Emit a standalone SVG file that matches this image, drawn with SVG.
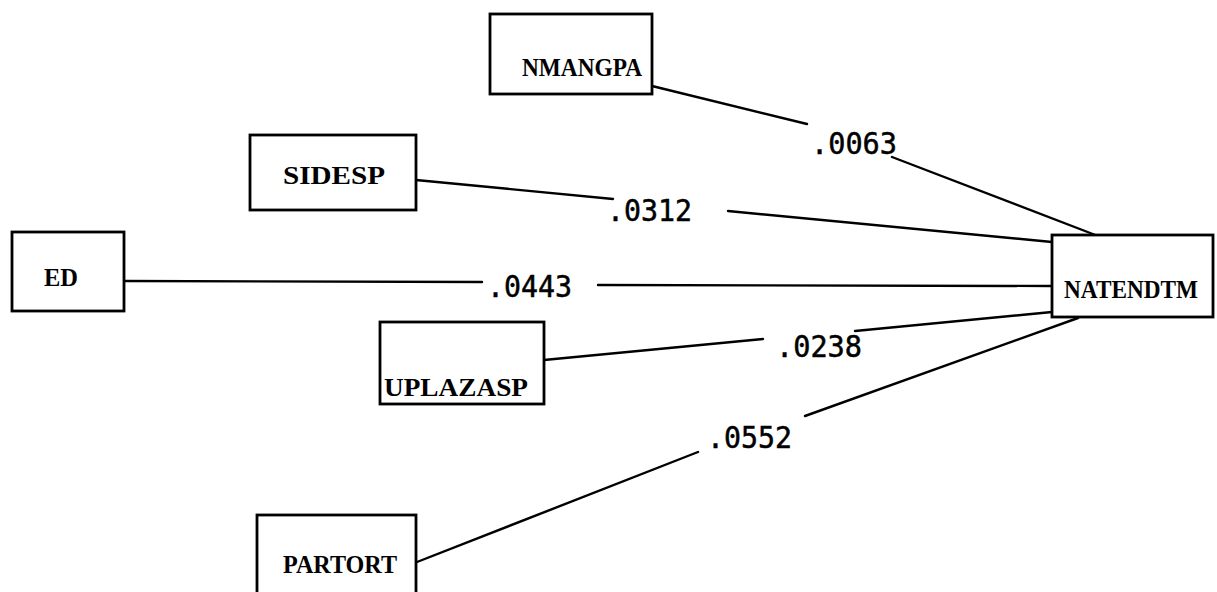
<svg xmlns="http://www.w3.org/2000/svg" width="1217" height="592" viewBox="0 0 1217 592">
<style>
.box{fill:#fff;stroke:#000;stroke-width:2.8}
.lbl{font-family:"Liberation Serif","DejaVu Serif",serif;font-weight:bold;font-size:25px;fill:#000}
.num{font-family:"DejaVu Sans Mono","Liberation Mono",monospace;font-size:30px;fill:#000;stroke:#000;stroke-width:0.5}
.ln{stroke:#000;stroke-width:2.4;fill:none;stroke-linecap:round}
</style>
<rect width="1217" height="592" fill="#fff"/>
<g id="connectors">
<line class="ln" x1="652" y1="86" x2="807" y2="124"/>
<line class="ln" x1="892" y1="157" x2="1098" y2="236"/>
<line class="ln" x1="416" y1="180" x2="613" y2="199"/>
<line class="ln" x1="728" y1="211" x2="1052" y2="242"/>
<line class="ln" x1="124" y1="281" x2="482" y2="282"/>
<line class="ln" x1="598" y1="285" x2="1052" y2="286"/>
<line class="ln" x1="544" y1="360" x2="763" y2="339"/>
<line class="ln" x1="855" y1="331" x2="1052" y2="312"/>
<line class="ln" x1="417" y1="562" x2="698" y2="452"/>
<line class="ln" x1="805" y1="416" x2="1078" y2="318"/>
<text class="num" x="811" y="154" textLength="86" lengthAdjust="spacingAndGlyphs">.0063</text>
<text class="num" x="607" y="221" textLength="85" lengthAdjust="spacingAndGlyphs">.0312</text>
<text class="num" x="487" y="297" textLength="85" lengthAdjust="spacingAndGlyphs">.0443</text>
<text class="num" x="776" y="357" textLength="86" lengthAdjust="spacingAndGlyphs">.0238</text>
<text class="num" x="707" y="448" textLength="85" lengthAdjust="spacingAndGlyphs">.0552</text>
</g>
<g id="NMANGPA"><rect class="box" x="490" y="14" width="162" height="80"/><text class="lbl" x="522" y="76" textLength="120" lengthAdjust="spacingAndGlyphs">NMANGPA</text></g>
<g id="SIDESP"><rect class="box" x="250" y="135" width="166" height="75"/><text class="lbl" x="283" y="184" textLength="102" lengthAdjust="spacingAndGlyphs">SIDESP</text></g>
<g id="ED"><rect class="box" x="12" y="232" width="112" height="79"/><text class="lbl" x="44" y="286" textLength="34" lengthAdjust="spacingAndGlyphs">ED</text></g>
<g id="NATENDTM"><rect class="box" x="1052" y="235" width="161" height="82"/><text class="lbl" x="1064" y="298" textLength="134" lengthAdjust="spacingAndGlyphs">NATENDTM</text></g>
<g id="UPLAZASP"><rect class="box" x="380" y="322" width="164" height="82"/><text class="lbl" x="384" y="396" textLength="144" lengthAdjust="spacingAndGlyphs">UPLAZASP</text></g>
<g id="PARTORT"><rect class="box" x="257" y="515" width="159" height="80"/><text class="lbl" x="283" y="573" textLength="114" lengthAdjust="spacingAndGlyphs">PARTORT</text></g>
</svg>
